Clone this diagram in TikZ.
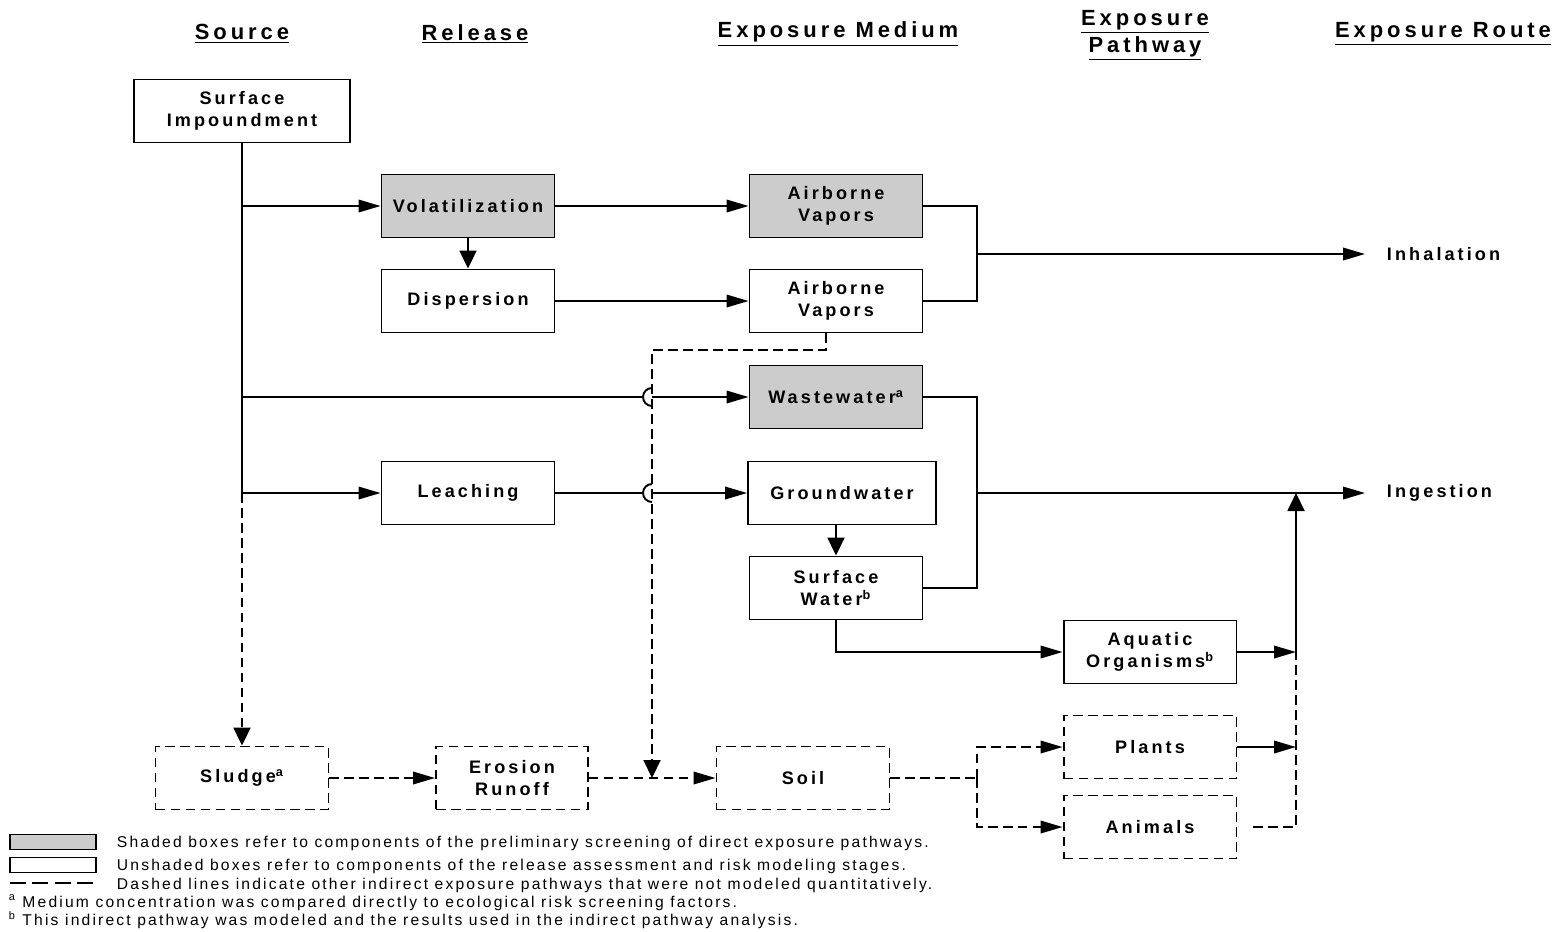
\documentclass[tikz,border=0pt]{standalone}
\usepackage{fontspec}
\setmainfont{Liberation Sans}
\newfontfamily\boxfont{Liberation Sans}[LetterSpace=17]
\newfontfamily\headfont{Liberation Sans}[LetterSpace=18]
\newfontfamily\notefont{Liberation Sans}[LetterSpace=14]
\usetikzlibrary{arrows.meta}

\begin{document}
\begin{tikzpicture}[x=0.02cm,y=-0.02cm,line width=1.1pt,
	box/.style={draw,line width=1.1pt,minimum width=3.46cm,minimum height=1.26cm,inner sep=0pt,align=center,
		font=\boxfont\bfseries\fontsize{10.3}{12.8}\selectfont},
	shaded/.style={fill=black!20},
	dline/.style={dash pattern=on 0.19cm off 0.11cm},
	dbox/.style={box,dline},
	arr/.style={-{Triangle[length=0.44cm,width=0.25cm]}},
	varr/.style={-{Triangle[length=0.36cm,width=0.34cm]}},
	head/.style={align=center,inner sep=0pt,font=\headfont\bfseries\fontsize{12.5}{15.4}\selectfont},
	lbl/.style={inner sep=0pt,font=\boxfont\bfseries\fontsize{10.3}{12.8}\selectfont},
	note/.style={inner sep=0pt,font=\notefont\fontsize{8.9}{10}\selectfont}]
	\useasboundingbox (0,0) rectangle (1564,931);
	
	% Define the column headings
	\node[head] (hsrc) at (242,34) {\underline{Source}};
	\node[head] (hrel) at (475,34) {\underline{Release}};
	\node[head] (hmed) at (838,34) {\underline{Exposure Medium}};
	\node[head] (hpath) at (1145,35) {\underline{Exposure}\\\underline{Pathway}};
	\node[head] (hroute) at (1443,34) {\underline{Exposure Route}};
	
	% Define the boxes
	\node[box,minimum width=4.32cm] (si) at (242,111) {Surface\\Impoundment};
	\node[box,shaded] (vol) at (468,206) {Volatilization};
	\node[box] (disp) at (468,301) {Dispersion};
	\node[box,shaded] (avs) at (836,206) {Airborne\\Vapors};
	\node[box] (av) at (836,301) {Airborne\\Vapors};
	\node[box,shaded] (ww) at (836,397) {Wastewater\textsuperscript{a}};
	\node[box] (leach) at (468,493) {Leaching};
	\node[box,minimum width=3.76cm] (gw) at (842,493) {Groundwater};
	\node[box] (sw) at (836,588) {Surface\\Water\textsuperscript{b}};
	\node[box] (aq) at (1150,652) {Aquatic\\Organisms\textsuperscript{b}};
	\node[dbox] (plants) at (1150,747) {Plants};
	\node[dbox] (animals) at (1150,827) {Animals};
	\node[dbox] (sludge) at (242,778) {Sludge\textsuperscript{a}};
	\node[dbox,minimum width=3.04cm] (eros) at (512,778) {Erosion\\Runoff};
	\node[dbox] (soil) at (803,778) {Soil};
	\node[lbl,anchor=west] (inh) at (1386,254) {Inhalation};
	\node[lbl,anchor=west] (ing) at (1386,493) {Ingestion};
	
	% Define the junctions
	\coordinate (j1) at (242,206);
	\coordinate (j2) at (242,397);
	\coordinate (j3) at (242,493);
	\coordinate (ka) at (977,254);
	\coordinate (kb) at (977,493);
	\coordinate (kc) at (1296,493);
	\coordinate (m1) at (1296,652);
	\coordinate (m2) at (1296,747);
	\coordinate (s1) at (977,778);
	\coordinate (d1) at (652,350);
	\coordinate (d2) at (652,778);
	\coordinate (h1) at (643,397);
	\coordinate (h2) at (652,388);
	\coordinate (h3) at (652,397);
	\coordinate (h4) at (643,493);
	\coordinate (h5) at (652,484);
	\coordinate (h6) at (652,493);
	
	% Draw the source branches
	\draw (si) -- (j3);
	\draw[dline,varr] (j3) -- (sludge);
	\draw[arr] (j1) -- (vol);
	\draw (j2) -- (h1);
	\draw (h2) arc[start angle=90,end angle=270,radius=0.18cm];
	\draw[arr] (h3) -- (ww);
	\draw[arr] (j3) -- (leach);
	\draw (leach) -- (h4);
	\draw (h5) arc[start angle=90,end angle=270,radius=0.18cm];
	\draw[arr] (h6) -- (gw);
	
	% Draw the air pathway
	\draw[varr] (vol) -- (disp);
	\draw[arr] (vol) -- (avs);
	\draw[arr] (disp) -- (av);
	\draw (avs.east) -| (ka);
	\draw (av.east) -| (ka);
	\draw[arr] (ka) -- (inh.west -| 1365,0);
	
	% Draw the water pathway
	\draw[varr] (gw.south -| sw) -- (sw);
	\draw (ww.east) -| (kb);
	\draw (sw.east) -| (kb);
	\draw[arr] (kb) -- (ing.west -| 1365,0);
	\draw[arr] (sw.south) |- (aq.west);
	\draw[arr] (aq.east) -- (m1);
	\draw[arr] (plants.east) -- (m2);
	\draw[dline,shorten <=0.32cm] (animals.east) -| (m1);
	\draw[varr] (m1) -- (kc);
	
	% Draw the indirect (dashed) pathways
	\draw[dline,varr] ([xshift=-0.2cm]av.south) |- (d1) -- (d2);
	\draw[dline,arr] (sludge) -- (eros);
	\draw[dline,arr] (eros) -- (soil);
	\draw[dline] (soil) -- (s1);
	\draw[dline,arr] (s1) |- (plants.west);
	\draw[dline,arr] (s1) |- (animals.west);
	
	% Draw the legend
	\node[draw,fill=black!20,minimum width=1.72cm,minimum height=0.3cm,inner sep=0pt] (lg1) at (53,842) {};
	\node[draw,minimum width=1.72cm,minimum height=0.3cm,inner sep=0pt] (lg2) at (53,865) {};
	\coordinate (ld1) at (10,883);
	\coordinate (ld2) at (96,883);
	\draw[dash pattern=on 0.32cm off 0.13cm] (ld1) -- (ld2);
	\node[note,anchor=west] (t1) at (116,843) {Shaded boxes refer to components of the preliminary screening of direct exposure pathways.};
	\node[note,anchor=west] (t2) at (116,866) {Unshaded boxes refer to components of the release assessment and risk modeling stages.};
	\node[note,anchor=west] (t3) at (116,885) {Dashed lines indicate other indirect exposure pathways that were not modeled quantitatively.};
	\node[note,anchor=west] (t4) at (8,903) {\textsuperscript{a} Medium concentration was compared directly to ecological risk screening factors.};
	\node[note,anchor=west] (t5) at (8,920) {\textsuperscript{b} This indirect pathway was modeled and the results used in the indirect pathway analysis.};
\end{tikzpicture}
\end{document}
